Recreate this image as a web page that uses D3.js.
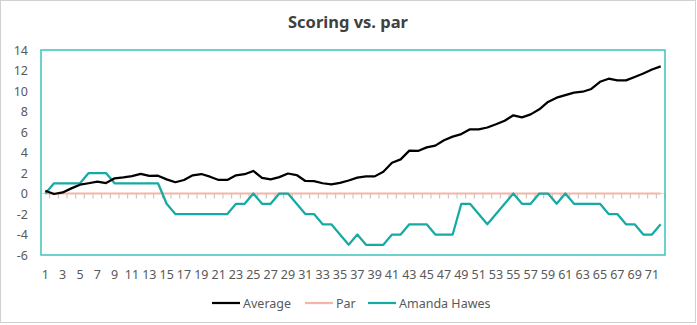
<!DOCTYPE html>
<html><head><meta charset="utf-8">
<script src="https://cdn.jsdelivr.net/npm/d3@7/dist/d3.min.js"></script>
<style>
html,body{margin:0;padding:0;background:#fff;}
svg{display:block;font-family:"Noto Sans","Open Sans",sans-serif;}
</style></head>
<body><svg id="chart" width="697" height="325"></svg>
<script>
const rounds = d3.range(1, 73);
const average = [0.27,-0.05,0.1,0.5,0.86,1.0,1.15,1.02,1.48,1.58,1.7,1.92,1.72,1.74,1.38,1.1,1.32,1.77,1.9,1.64,1.32,1.32,1.77,1.88,2.2,1.52,1.37,1.6,1.95,1.8,1.22,1.2,1.0,0.9,1.04,1.27,1.55,1.67,1.67,2.13,3.0,3.33,4.18,4.15,4.5,4.67,5.19,5.55,5.8,6.26,6.26,6.44,6.75,7.1,7.63,7.43,7.72,8.21,8.93,9.35,9.6,9.84,9.93,10.2,10.9,11.2,11.04,11.04,11.37,11.7,12.1,12.4];
const par = rounds.map(() => 0);
const amanda = [0,1,1,1,1,2,2,2,1,1,1,1,1,1,-1,-2,-2,-2,-2,-2,-2,-2,-1,-1,0,-1,-1,0,0,-1,-2,-2,-3,-3,-4,-5,-4,-5,-5,-5,-4,-4,-3,-3,-3,-4,-4,-4,-1,-1,-2,-3,-2,-1,0,-1,-1,0,0,-1,0,-1,-1,-1,-1,-2,-2,-3,-3,-4,-4,-3];
const yTicks = [14,12,10,8,6,4,2,0,-2,-4,-6];
const xTickLabels = rounds.filter(d => d % 2 === 1);
const seriesNames = ["Average","Par","Amanda Hawes"];
const seriesColors = ["#000000","#f4b6a6","#17aaa4"];

const svg = d3.select("#chart");
const pLeft = 41, pRight = 665, pTop = 50, pBottom = 255;

// chart border
svg.append("rect").attr("x",0.5).attr("y",0.5).attr("width",695).attr("height",322)
  .attr("fill","#fff").attr("stroke","#d0d0d0").attr("stroke-width",1);

// title
svg.append("text").attr("x",348).attr("y",28).attr("text-anchor","middle")
  .attr("font-size",16.5).attr("font-weight","bold").attr("fill","#404040").text("Scoring vs. par");

const x = d3.scaleBand().domain(rounds).range([pLeft,pRight]).paddingInner(0).paddingOuter(0);
const y = d3.scaleLinear().domain([-6,14]).range([pBottom,pTop]);
const cx = d => x(d) + x.bandwidth()/2;

// y axis labels
const yAxis = d3.axisLeft(y).tickValues(yTicks).tickSize(0).tickPadding(0).tickFormat(d => d < 0 ? "-" + Math.abs(d) : d);
const gy = svg.append("g").attr("transform",`translate(${pLeft-13},0)`).call(yAxis);
gy.select(".domain").remove();
gy.selectAll("text").attr("font-size",12.5).attr("fill","#595959").attr("font-family","Noto Sans, sans-serif").attr("dy","0.35em");

// x axis labels
const xAxis = d3.axisBottom(x).tickValues(xTickLabels).tickSize(0).tickPadding(0);
const gx = svg.append("g").attr("transform",`translate(0,${pBottom+24})`).call(xAxis);
gx.select(".domain").remove();
gx.selectAll("text").attr("font-size",12.5).attr("fill","#595959").attr("font-family","Noto Sans, sans-serif").attr("dy","0");

// category axis at y=0 with tick marks at boundaries
const y0 = y(0);
const bounds = rounds.map(d => x(d)).concat([pRight]);
svg.append("g").selectAll("line").data(bounds.slice(1)).join("line")
  .attr("x1",d=>d).attr("x2",d=>d).attr("y1",y0).attr("y2",y0+5)
  .attr("stroke","#bfbfbf").attr("stroke-width",1);
svg.append("line").attr("x1",pLeft).attr("x2",pRight).attr("y1",y0).attr("y2",y0)
  .attr("stroke","#d9d9d9").attr("stroke-width",1);

const line = d3.line().x((d,i) => cx(rounds[i])).y(d => y(d));
svg.append("path").datum(par).attr("d",line).attr("fill","none").attr("stroke",seriesColors[1]).attr("stroke-width",2);
svg.append("path").datum(amanda).attr("d",line).attr("fill","none").attr("stroke",seriesColors[2]).attr("stroke-width",2.25).attr("stroke-linejoin","round");
svg.append("path").datum(average).attr("d",line).attr("fill","none").attr("stroke",seriesColors[0]).attr("stroke-width",2.25).attr("stroke-linejoin","round");

// plot area border
svg.append("rect").attr("x",pLeft).attr("y",pTop).attr("width",pRight-pLeft).attr("height",pBottom-pTop)
  .attr("fill","none").attr("stroke","#3cc3bc").attr("stroke-width",1.5);

// legend
const legendItems = [
  {name: seriesNames[0], color: seriesColors[0], x: 212},
  {name: seriesNames[1], color: seriesColors[1], x: 305},
  {name: seriesNames[2], color: seriesColors[2], x: 368}
];
const lg = svg.append("g");
legendItems.forEach(it => {
  lg.append("line").attr("x1",it.x).attr("x2",it.x+28).attr("y1",303).attr("y2",303)
    .attr("stroke",it.color).attr("stroke-width",2.25);
  lg.append("text").attr("x",it.x+31).attr("y",307.5).attr("font-size",12.5).attr("fill","#595959").text(it.name);
});
</script></body></html>
